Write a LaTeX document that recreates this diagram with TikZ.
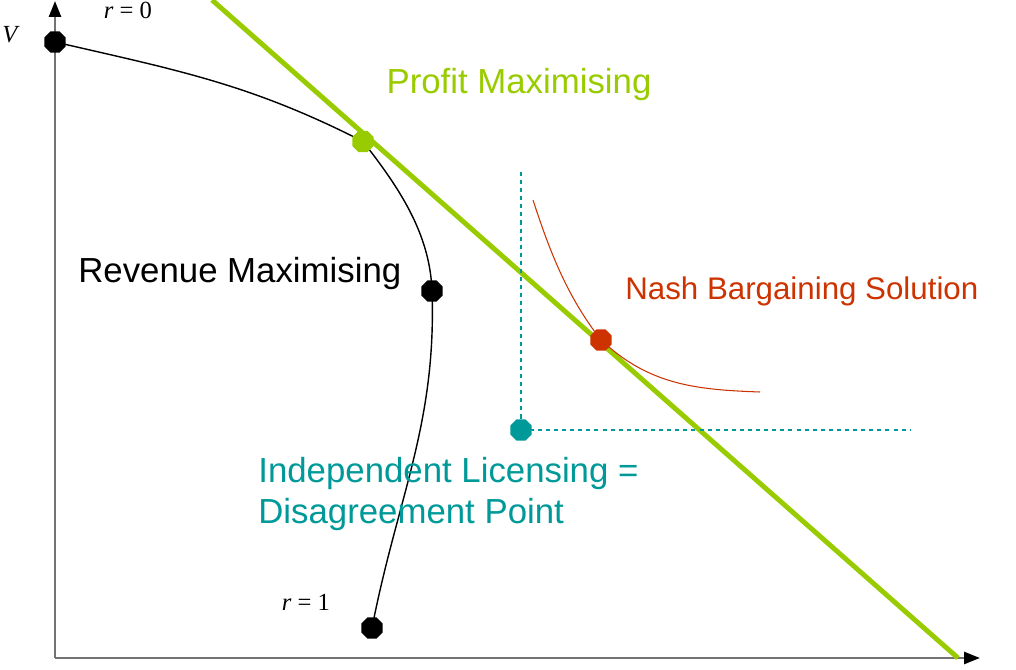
\documentclass[tikz,border=0pt]{standalone}
\usepackage{fontspec}
\setmainfont{Liberation Sans}
\newfontfamily\timesfont{Liberation Serif}
\usetikzlibrary{arrows.meta, shapes.geometric}
\definecolor{pGreen}{HTML}{99CC00}
\definecolor{nRed}{HTML}{CC3300}
\definecolor{dTeal}{HTML}{009999}
\definecolor{axGrey}{HTML}{737373}

\begin{document}
\begin{tikzpicture}[
    dot/.style={regular polygon, regular polygon sides=8, minimum size=4.6mm,
      inner sep=0pt, fill=#1},
    dot/.default=black,
    axis/.style={axGrey, line width=1.4pt, -{Triangle[black, length=3.2mm, width=2.4mm]}},
    lbl/.style={font=\fontsize{19.8}{23.8}\selectfont, inner sep=0pt},
    mlbl/.style={font=\timesfont\fontsize{14}{16}\selectfont, inner sep=0pt}]
  \useasboundingbox (0,0) rectangle (20.32,13.4);
  % axes
  \coordinate (o) at (1.1,0.24);
  \coordinate (ytop) at (1.1,13.38);
  \coordinate (xend) at (19.6,0.24);
  \draw[axis] (o) -- (ytop);
  \draw[axis] (o) -- (xend);

  % revenue curve
  \node[dot] (v) at (1.1,12.56) {};
  \node[dot] (rm) at (8.64,7.58) {};
  \node[dot] (r1) at (7.44,0.84) {};
  \coordinate (pmC) at (7.26,10.57);
  \draw[line width=0.8pt] (v.center) to[out=-13, in=153] (pmC)
    to[out=-52, in=92, looseness=0.9] (rm.center) to[out=-88, in=79] (r1.center);

  % profit line
  \coordinate (pmA) at (4.24,13.4);
  \coordinate (pmB) at (19.16,0.24);
  \draw[pGreen, line width=2.8pt] (pmA) -- (pmB);
  \node[dot=pGreen] (pm) at (pmC) {};

  % disagreement point
  \coordinate (dTop) at (10.42,9.96);
  \coordinate (dRight) at (18.2,4.8);
  \node[dot=dTeal] (d) at (10.42,4.8) {};
  \draw[dTeal, line width=0.7pt, dash pattern=on 2.3pt off 2.3pt] (dTop) -- (d.center) -- (dRight);

  % nash solution
  \coordinate (nA) at (10.66,9.4);
  \coordinate (nbC) at (12.02,6.6);
  \coordinate (nB) at (15.2,5.56);
  \draw[nRed, line width=0.6pt] (nA) to[out=-72, in=128, looseness=0.9] (nbC)
    to[out=-43, in=178] (nB);
  \node[dot=nRed] (nb) at (nbC) {};

  % labels
  \node[mlbl, anchor=east] (vlbl) at (0.4,12.7) {\textit{V}};
  \node[mlbl] (r0lbl) at (2.56,13.2) {\textit{r} = 0};
  \node[mlbl] (r1lbl) at (6.12,1.36) {\textit{r} = 1};
  \node[lbl, pGreen] (pmlbl) at (10.38,11.7) {Profit Maximising};
  \node[lbl, anchor=west] (rmlbl) at (1.56,7.92) {Revenue Maximising};
  \node[lbl, nRed, anchor=west, font=\fontsize{17.8}{21}\selectfont] (nblbl) at (12.5,7.58)
    {Nash Bargaining Solution};
  \node[lbl, dTeal, anchor=west, align=left] (dlbl) at (5.16,3.52)
    {Independent Licensing =\\Disagreement Point};
\end{tikzpicture}
\end{document}
